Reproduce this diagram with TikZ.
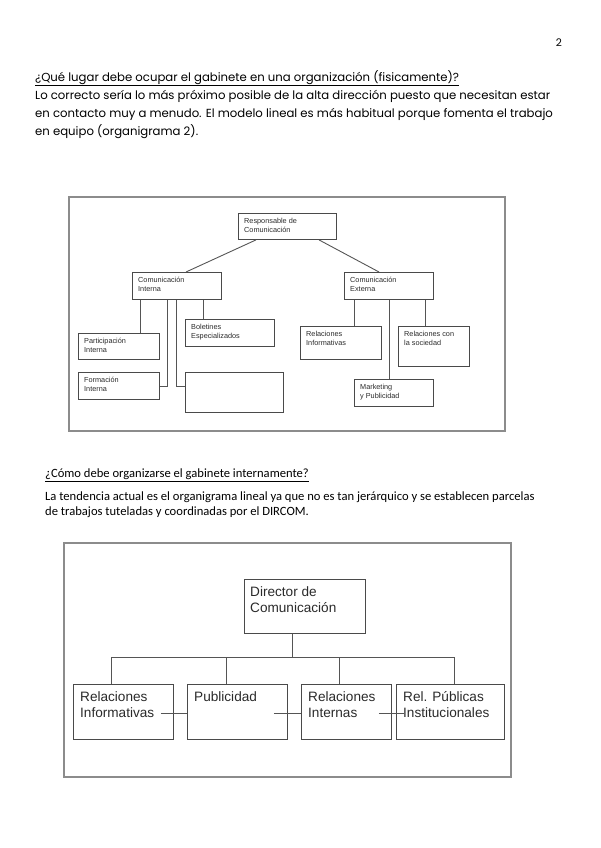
\documentclass[tikz,border=0pt]{standalone}
\usepackage{fontspec}
\setmainfont{Poppins}
\newfontfamily\calibri{Carlito}
\newfontfamily\arial{Liberation Sans}
\usetikzlibrary{positioning}

\definecolor{framegray}{HTML}{8C8C8C}
\definecolor{boxgray}{HTML}{4A4A4A}
\definecolor{linegray}{HTML}{555555}
\definecolor{textgray}{HTML}{2A2A2A}

\begin{document}
\begin{tikzpicture}[%
x=1pt, y=-1pt,
frame/.style={draw=framegray, line width=1.1pt},
unit/.style={draw=boxgray, line width=0.9pt, anchor=north west, inner sep=0pt},
small/.style={font=\arial\fontsize{7.3}{9}\selectfont, text=textgray, align=left, anchor=north west, inner xsep=6pt, inner ysep=5pt},
large/.style={font=\arial\fontsize{13.6}{16}\selectfont, text=textgray, align=left, anchor=north west, inner xsep=7pt, inner ysep=7pt},
link/.style={draw=linegray, line width=0.9pt}
]
\useasboundingbox (0,0) rectangle (600,848);

% page text
\node[font=\fontsize{10.5}{12}\selectfont] (page) at (559,43) {2};
\node[anchor=north west, inner sep=0pt, align=left, font=\fontsize{11.7}{18}\selectfont] (intro) at (35,70)
  {\underline{¿Qué lugar debe ocupar el gabinete en una organización (fisicamente)?}\\
   Lo correcto sería lo más próximo posible de la alta dirección puesto que necesitan estar\\
   en contacto muy a menudo. El modelo lineal es más habitual porque fomenta el trabajo\\
   en equipo (organigrama 2).};
\node[anchor=north west, inner sep=0pt, align=left, font=\calibri\fontsize{12.6}{14.5}\selectfont] (second) at (45,469)
  {\underline{¿Cómo debe organizarse el gabinete internamente?}};
\node[anchor=north west, inner sep=0pt, align=left, font=\calibri\fontsize{12.6}{14.5}\selectfont] (tendency) at (45,492)
  {La tendencia actual es el organigrama lineal ya que no es tan jerárquico y se establecen parcelas\\
   de trabajos tuteladas y coordinadas por el DIRCOM.};

% organigrama 1
\draw[frame] (69,197) rectangle (505,431);
\node[unit, minimum width=98pt, minimum height=26pt, label={[small]north west:Responsable de\\Comunicación}] (resp) at (238,213) {};
\node[unit, minimum width=89pt, minimum height=27pt, label={[small]north west:Comunicación\\Interna}] (ci) at (132,272) {};
\node[unit, minimum width=89pt, minimum height=27pt, label={[small]north west:Comunicación\\Externa}] (ce) at (344,272) {};
\node[unit, minimum width=81pt, minimum height=26pt, label={[small]north west:Participación\\Interna}] (part) at (78,333) {};
\node[unit, minimum width=81pt, minimum height=27pt, label={[small]north west:Formación\\Interna}] (form) at (78,372) {};
\node[unit, minimum width=89pt, minimum height=27pt, label={[small]north west:Boletines\\Especializados}] (bol) at (185,319) {};
\node[unit, minimum width=98pt, minimum height=40pt] (blank) at (185,372) {};
\node[unit, minimum width=81pt, minimum height=33pt, label={[small]north west:Relaciones\\Informativas}] (relinf) at (300,326) {};
\node[unit, minimum width=71pt, minimum height=40pt, label={[small]north west:Relaciones con\\la sociedad}] (relsoc) at (398,326) {};
\node[unit, minimum width=79pt, minimum height=27pt, label={[small]north west:Marketing\\y Publicidad}] (mkt) at (354,379) {};

\coordinate (r1) at ([xshift=18pt]resp.south west);
\coordinate (r2) at ([xshift=81pt]resp.south west);
\coordinate (i1) at ([xshift=8pt]ci.south west);
\coordinate (i2) at ([xshift=35pt]ci.south west);
\coordinate (i3) at ([xshift=44pt]ci.south west);
\coordinate (i4) at ([xshift=71pt]ci.south west);
\coordinate (e1) at ([xshift=10pt]ce.south west);
\coordinate (e2) at ([xshift=45pt]ce.south west);
\coordinate (e3) at ([xshift=81pt]ce.south west);

\draw[link] (r1) -- ([xshift=54pt]ci.north west);
\draw[link] (r2) -- ([xshift=35pt]ce.north west);
\draw[link] (i1) -- (i1 |- part.north);
\draw[link] (i2) |- (form.east);
\draw[link] (i3) |- (form.east -| blank.west);
\draw[link] (i4) -- (i4 |- bol.north);
\draw[link] (e1) -- (e1 |- relinf.north);
\draw[link] (e2) -- (e2 |- mkt.north);
\draw[link] (e3) -- (e3 |- relsoc.north);

% organigrama 2
\draw[frame] (64,543) rectangle (511,777);
\node[unit, minimum width=121pt, minimum height=54pt, label={[large, inner xsep=6pt]north west:Director de\\Comunicación}] (dir) at (244,579) {};
\node[unit, minimum width=100pt, minimum height=55pt, label={[large]north west:Relaciones\\Informativas}] (ri) at (73,684) {};
\node[unit, minimum width=100pt, minimum height=55pt, label={[large]north west:Publicidad}] (pub) at (187,684) {};
\node[unit, minimum width=90pt, minimum height=55pt, label={[large]north west:Relaciones\\Internas}] (rint) at (301,684) {};
\node[unit, minimum width=108pt, minimum height=55pt, label={[large]north west:Rel. Públicas\\Institucionales}] (rpi) at (396,684) {};

\coordinate (d0) at ([xshift=48pt]dir.south west);
\coordinate (bus) at (292,657);
\coordinate (b1) at ([xshift=38pt]ri.north west);
\coordinate (b2) at ([xshift=39pt]pub.north west);
\coordinate (b3) at ([xshift=38pt]rint.north west);
\coordinate (b4) at ([xshift=58pt]rpi.north west);

\draw[link] (d0) -- (bus);
\draw[link] (b1 |- bus) -- (b4 |- bus);
\foreach \b in {b1,b2,b3,b4}
  \draw[link] (\b |- bus) -- (\b);

\coordinate (h1) at ([xshift=-13pt, yshift=-1.5pt]ri.east);
\coordinate (h2) at ([xshift=-14pt, yshift=-1.5pt]pub.east);
\coordinate (h3) at ([xshift=-13pt, yshift=-1.5pt]rint.east);
\draw[link, line width=0.6pt] (h1) -- (h1 -| pub.west);
\draw[link, line width=0.6pt] (h2) -- (h2 -| rint.west);
\draw[link, line width=0.6pt] (h3) -- ++(25,0);

\end{tikzpicture}
\end{document}
